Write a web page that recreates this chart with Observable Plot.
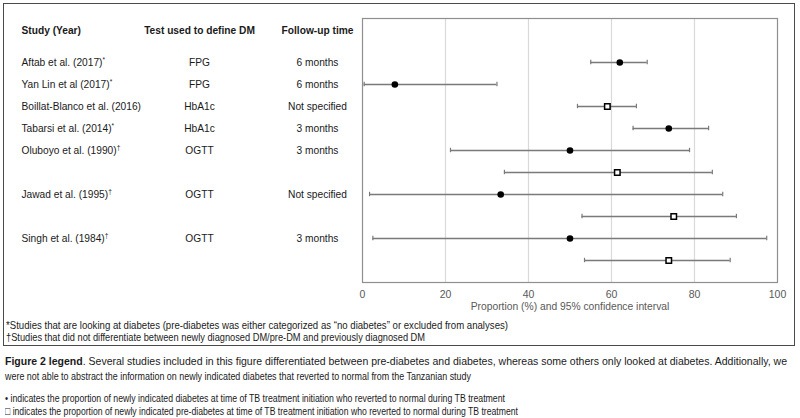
<!DOCTYPE html>
<html>
<head>
<meta charset="utf-8">
<script src="https://cdn.jsdelivr.net/npm/d3@7"></script>
<script src="https://cdn.jsdelivr.net/npm/@observablehq/plot@0.6"></script>
<style>
  body { margin: 0; background: #fff; }
  #wrap { position: relative; width: 800px; height: 418px; background: #fff; overflow: hidden;
          font-family: "Liberation Sans", Arial, sans-serif; color: #1a1a1a; }
  #box { position: absolute; left: 3px; top: 3px; width: 790px; height: 341px; border: 1.5px solid #4a4a4a; }
  #chart { position: absolute; left: 0; top: 0; }
  .line { position: absolute; white-space: nowrap; line-height: 12px; height: 12px; }
  .fit { display: inline-block; transform-origin: 0 50%; }
</style>
</head>
<body>
<div id="wrap">
  <div id="box"></div>
  <div id="chart"></div>
  <div class="line" style="left:6px;top:320px;font-size:10.3px"><span class="fit" data-w="502">*Studies that are looking at diabetes (pre-diabetes was either categorized as “no diabetes” or excluded from analyses)</span></div>
  <div class="line" style="left:6px;top:332px;font-size:10.3px"><span class="fit" data-w="419">†Studies that did not differentiate between newly diagnosed DM/pre-DM and previously diagnosed DM</span></div>
  <div class="line" style="left:5px;top:355px;font-size:11.3px"><span class="fit" data-w="782"><b>Figure 2 legend</b>. Several studies included in this figure differentiated between pre-diabetes and diabetes, whereas some others only looked at diabetes. Additionally, we</span></div>
  <div class="line" style="left:5px;top:370px;font-size:11.3px"><span class="fit" data-w="466">were not able to abstract the information on newly indicated diabetes that reverted to normal from the Tanzanian study</span></div>
  <div class="line" style="left:5px;top:392px;font-size:11.3px"><span class="fit" data-w="500">• indicates the proportion of newly indicated diabetes at time of TB treatment initiation who reverted to normal during TB treatment</span></div>
  <div class="line" style="left:5px;top:405px;font-size:11.3px"><span class="fit" data-w="513">□ indicates the proportion of newly indicated pre-diabetes at time of TB treatment initiation who reverted to normal during TB treatment</span></div>
</div>
<script>
// ---- Data ----
const headers = ["Study (Year)", "Test used to define DM", "Follow-up time"];
const studies = ["Aftab et al. (2017)", "Yan Lin et al (2017)", "Boillat-Blanco et al. (2016)", "Tabarsi et al. (2014)", "Oluboyo et al. (1990)", "Jawad et al. (1995)", "Singh et al. (1984)"];
const notes = ["*", "*", "", "*", "†", "†", "†"];
const tests = ["FPG", "FPG", "HbA1c", "HbA1c", "OGTT", "OGTT", "OGTT"];
const followup = ["6 months", "6 months", "Not specified", "3 months", "3 months", "Not specified", "3 months"];

// one entry per estimate row (top to bottom)
const estStudy = [0, 1, 2, 3, 4, 4, 5, 5, 6, 6];
const estType = ["DM", "DM", "preDM", "DM", "DM", "preDM", "DM", "preDM", "DM", "preDM"];
const estValue = [62.0, 7.8, 59.0, 73.8, 50.0, 61.4, 33.3, 75.0, 50.0, 73.8];
const lower = [55.0, 0.4, 51.8, 65.2, 21.2, 34.2, 1.7, 52.9, 2.5, 53.5];
const upper = [68.6, 32.4, 66.0, 83.4, 78.8, 84.3, 86.8, 90.1, 97.4, 88.6];
const xTicks = [0, 20, 40, 60, 80, 100];
const xLabel = "Proportion (%) and 95% confidence interval";

// ---- Build tables ----
const rowOffset = 2;
const est = estValue.map((v, i) => ({study: estStudy[i], type: estType[i], value: v, lo: lower[i], hi: upper[i], row: i + rowOffset}));
const table = studies.map((s, j) => ({
  label: s + notes[j], test: tests[j], fu: followup[j],
  row: est.findIndex(e => e.study === j) + rowOffset
}));

const ink = "#1a1a1a";
const fs = 10.2;
const colStudy = -341, colTest = -163, colFu = -45;

const chart = Plot.plot({
  width: 800,
  height: 350,
  marginLeft: 362,
  marginRight: 23,
  marginTop: 18,
  marginBottom: 68,
  style: {fontFamily: "'Liberation Sans', Arial, sans-serif", fontSize: "10.5px", color: "#595959", background: "transparent"},
  x: {domain: [0, 100], ticks: xTicks, tickSize: 0, tickPadding: 8, tickFormat: d => String(d), label: null},
  y: {domain: [0, 12], reverse: true, axis: null},
  marks: [
    Plot.ruleX(xTicks.filter(t => t > 0 && t < 100), {stroke: "#d9d9d9", strokeWidth: 1.2}),
    Plot.frame({stroke: "#8f8f8f", strokeWidth: 1.2}),
    Plot.ruleY(est, {y: "row", x1: "lo", x2: "hi", stroke: "#7a7a7a", strokeWidth: 1.5}),
    Plot.ruleX(est, {x: "lo", y1: d => d.row - 0.1, y2: d => d.row + 0.1, stroke: "#7a7a7a", strokeWidth: 1.2}),
    Plot.ruleX(est, {x: "hi", y1: d => d.row - 0.1, y2: d => d.row + 0.1, stroke: "#7a7a7a", strokeWidth: 1.2}),
    Plot.dot(est.filter(d => d.type === "DM"), {x: "value", y: "row", r: 3.3, fill: "#000", stroke: "none"}),
    Plot.dot(est.filter(d => d.type === "preDM"), {x: "value", y: "row", symbol: "square", r: 3.1, fill: "#fff", stroke: "#000", strokeWidth: 1.5}),
    // table
    Plot.text([headers[0]], {frameAnchor: "top-left", text: d => d, dx: colStudy, dy: 8.5, textAnchor: "start", fontWeight: "bold", fill: ink, fontSize: fs}),
    Plot.text([headers[1]], {frameAnchor: "top-left", text: d => d, dx: colTest, dy: 8.5, textAnchor: "middle", fontWeight: "bold", fill: ink, fontSize: fs}),
    Plot.text([headers[2]], {frameAnchor: "top-left", text: d => d, dx: colFu, dy: 8.5, textAnchor: "middle", fontWeight: "bold", fill: ink, fontSize: fs}),
    Plot.text(table, {y: "row", text: "label", frameAnchor: "left", dx: colStudy, textAnchor: "start", fill: ink, fontSize: fs}),
    Plot.text(table, {y: "row", text: "test", frameAnchor: "left", dx: colTest, textAnchor: "middle", fill: ink, fontSize: fs}),
    Plot.text(table, {y: "row", text: "fu", frameAnchor: "left", dx: colFu, textAnchor: "middle", fill: ink, fontSize: fs}),
    Plot.text([xLabel], {frameAnchor: "bottom", text: d => d, dy: 27.5, fill: "#595959", fontSize: 10.3})
  ]
});
document.getElementById("chart").appendChild(chart);

// superscript footnote markers
const svgns = "http://www.w3.org/2000/svg";
chart.querySelectorAll("text").forEach(t => {
  const s = t.textContent;
  if (t.children.length === 0 && /[*†]$/.test(s) && studies.some(n => s.startsWith(n))) {
    t.textContent = s.slice(0, -1);
    const ts = document.createElementNS(svgns, "tspan");
    ts.setAttribute("dy", "-4");
    ts.setAttribute("font-size", "6.5");
    ts.textContent = s.slice(-1);
    t.appendChild(ts);
  }
});

// fit text lines to their measured widths
document.querySelectorAll(".fit").forEach(el => {
  const w = el.getBoundingClientRect().width;
  const target = +el.dataset.w;
  if (w > 0) el.style.transform = `scaleX(${target / w})`;
});
</script>
</body>
</html>
